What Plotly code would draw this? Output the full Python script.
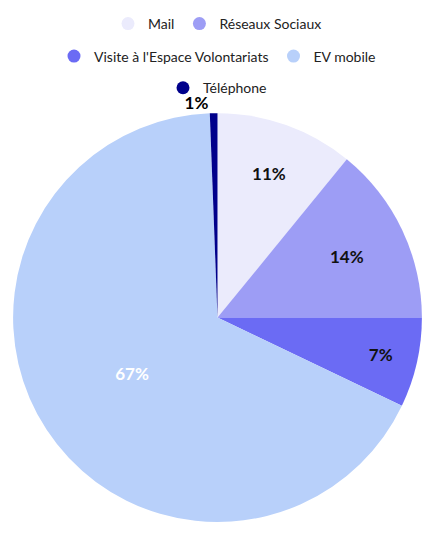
import plotly.graph_objects as go

categories = ["Mail", "Réseaux Sociaux", "Visite à l'Espace Volontariats", "EV mobile", "Téléphone"]
values = [10.9, 14.1, 7.1, 67.3, 0.6]
colors = ["#EBEBFC", "#9D9DF5", "#6B6BF4", "#B8D0FA", "#00008B"]
label_colors = ["#111111", "#111111", "#111111", "#FFFFFF", "#111111"]
legend_rows = ["legend", "legend", "legend2", "legend2", "legend3"]

fig = go.Figure()
fig.add_trace(go.Pie(
    labels=categories, values=values, sort=False, direction="clockwise", rotation=0,
    marker=dict(colors=colors, line=dict(width=0)),
    texttemplate="<b>%{percent:.0%}</b>", textposition="auto",
    insidetextorientation="horizontal",
    textfont=dict(family="Lato", size=17, color=label_colors),
    showlegend=False, domain=dict(x=[0, 1], y=[0, 0.8]),
))
for c, col, lg in zip(categories, colors, legend_rows):
    fig.add_trace(go.Scatter(
        x=[None], y=[None], mode="markers", name=c, legend=lg,
        marker=dict(color=col, size=13, symbol="circle"), showlegend=True,
    ))

leg_common = dict(orientation="h", x=0.5, xanchor="center", yanchor="middle",
                  bgcolor="rgba(0,0,0,0)", font=dict(family="Lato", size=14, color="#222222"))
fig.update_layout(
    margin=dict(l=0, r=0, t=0, b=0),
    paper_bgcolor="white", plot_bgcolor="white",
    legend=dict(y=0.975, **leg_common),
    legend2=dict(y=0.911, **leg_common),
    legend3=dict(y=0.849, **leg_common),
    xaxis=dict(visible=False), yaxis=dict(visible=False),
)
fig.write_html("out.html")
